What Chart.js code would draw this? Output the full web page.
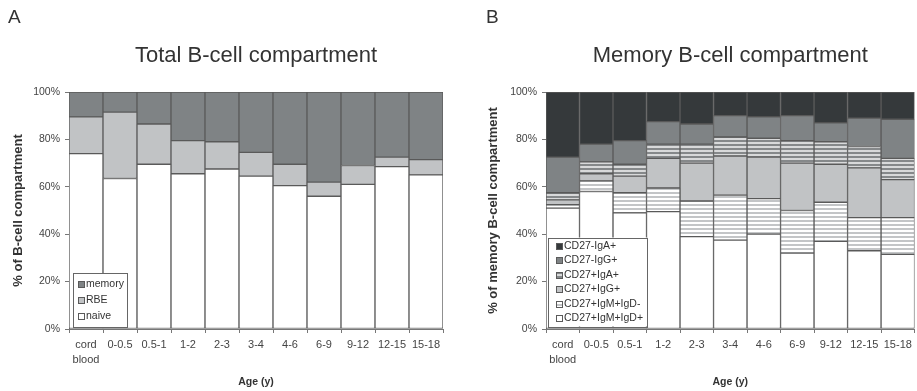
<!DOCTYPE html>
<html>
<head>
<meta charset="utf-8">
<script src="https://cdn.jsdelivr.net/npm/chart.js@4.4.1/dist/chart.umd.min.js"></script>
<style>
	html, body { margin: 0; padding: 0; background: #fff; }
	body { width: 917px; height: 391px; position: relative; overflow: hidden; font-family: 'Liberation Sans', Arial, sans-serif; }
	.panel { position: absolute; top: 0; height: 391px; }
	#panel-a { left: 0; width: 458px; }
	#panel-b { left: 458px; width: 459px; }
	.letter { position: absolute; top: 7px; font-size: 19px; line-height: 19px; color: #333; }
</style>
</head>
<body>
<div class="panel" id="panel-a"><canvas id="total-chart"></canvas></div>
<div class="panel" id="panel-b"><canvas id="memory-chart"></canvas></div>
<div class="letter" style="left:8px">A</div>
<div class="letter" style="left:486px">B</div>
<script>
// age groups on the x axis
const ageGroups = [['cord', 'blood'], '0-0.5', '0.5-1', '1-2', '2-3', '3-4', '4-6', '6-9', '9-12', '12-15', '15-18']
const percentTicks = [0, 20, 40, 60, 80, 100]

// panel A, % of total B cells
const naive = [74, 63.5, 69.5, 65.5, 67.5, 64.5, 60.5, 56, 61, 68.5, 65]
const rbe = [15.5, 28, 17, 14, 11.5, 10, 9, 6, 8, 4, 6.5]
const memory = [10.5, 8.5, 13.5, 20.5, 21, 25.5, 30.5, 38, 31, 27.5, 28.5]

// panel B, % of memory B cells
const cd27IgMIgDpos = [51, 58, 49, 49.5, 39, 37.5, 40, 32, 37, 33, 31.5]
const cd27IgMIgDneg = [1.5, 4.5, 8.5, 10, 15, 19, 15, 18, 16.5, 14, 15.5]
const cd27IgG = [2, 3, 7, 12.5, 16, 16.5, 17.5, 20, 16, 21, 16]
const cd27IgA = [3, 5, 5, 6, 8, 8, 8, 9.5, 9.5, 9, 9]
const cd27negIgG = [15, 7.5, 10, 9.5, 8.5, 9, 9, 10.5, 8, 12, 16.5]
const cd27negIgA = [27.5, 22, 20.5, 12.5, 13.5, 10, 10.5, 10, 13, 11, 11.5]

const FONT = "'Liberation Sans', Arial, sans-serif",
	DARK = '#35393b',
	MID = '#7f8385',
	LIGHT = '#c1c3c5',
	EDGE = '#5a5a5a',
	AXIS = '#777'

function stripes(lineColor, gapColor) {
	const c = document.createElement('canvas')
	c.width = 4
	c.height = 4
	const g = c.getContext('2d')
	g.fillStyle = gapColor
	g.fillRect(0, 0, 4, 4)
	g.fillStyle = lineColor
	g.fillRect(0, 0, 4, 2)
	return g.createPattern(c, 'repeat')
}

// legend drawn as a framed box inside the plot, bottom left
const boxLegend = {
	id: 'boxLegend',
	afterDatasetsDraw(chart, args, opts) {
		const { ctx, chartArea } = chart
		const sets = chart.data.datasets.slice().reverse()
		const h = sets.length * opts.rowHeight + opts.pad * 2
		const x = chartArea.left + opts.left
		const y = chartArea.bottom - opts.bottom - h
		ctx.save()
		ctx.fillStyle = '#fff'
		ctx.fillRect(x, y, opts.width, h)
		ctx.strokeStyle = '#666'
		ctx.lineWidth = 1
		ctx.strokeRect(Math.round(x) + 0.5, Math.round(y) + 0.5, opts.width, Math.round(h))
		ctx.font = `${opts.fontSize}px ${FONT}`
		ctx.textBaseline = 'middle'
		sets.forEach((ds, i) => {
			const cy = Math.round(y + opts.pad + opts.rowHeight * (i + 0.5))
			const sx = Math.round(x + opts.swatchX)
			ctx.fillStyle = ds.backgroundColor
			ctx.fillRect(sx, cy - 3, 6, 6)
			ctx.strokeStyle = EDGE
			ctx.strokeRect(sx + 0.5, cy - 2.5, 6, 6)
			ctx.fillStyle = '#333'
			ctx.fillText(ds.label, sx + 8, cy + 0.5)
		})
		ctx.restore()
	}
}

function series(label, data, color) {
	return { label, data, backgroundColor: color, borderColor: EDGE, borderWidth: 1, borderSkipped: false, categoryPercentage: 1, barPercentage: 1 }
}

function options(title, yTitle, pad, yWidth, legend) {
	return {
		responsive: true,
		maintainAspectRatio: false,
		animation: false,
		layout: { padding: pad },
		plugins: {
			legend: { display: false },
			tooltip: { enabled: false },
			title: {
				display: true, text: title, fullSize: false, color: '#333',
				font: { family: FONT, size: 22, weight: 'normal', lineHeight: 1.2 },
				padding: { top: 43, bottom: 22.6 }
			},
			boxLegend: legend
		},
		scales: {
			x: {
				stacked: true,
				offset: true,
				grid: { offset: true, drawOnChartArea: false, tickLength: 4, color: AXIS },
				border: { color: AXIS },
				ticks: { color: '#444', padding: 5, maxRotation: 0, autoSkip: false, font: { family: FONT, size: 11, lineHeight: 1.35 } },
				title: { display: true, text: 'Age (y)', color: '#333', font: { family: FONT, size: 10.5, weight: 'bold' }, padding: { top: 0, bottom: 3 } },
				afterFit: (s) => { s.height = 62 }
			},
			y: {
				stacked: true,
				min: 0,
				max: 100,
				afterBuildTicks: (s) => { s.ticks = percentTicks.map((value) => ({ value })) },
				grid: { drawOnChartArea: false, tickLength: 4, color: AXIS },
				border: { color: AXIS },
				ticks: { color: '#444', padding: 5, callback: (v) => v + '%', font: { family: FONT, size: 10.5 } },
				title: { display: true, text: yTitle, color: '#333', font: { family: FONT, size: 13, weight: 'bold' }, padding: { top: 0, bottom: 0 } },
				afterFit: (s) => { s.width = yWidth }
			}
		}
	}
}

new Chart(document.getElementById('total-chart'), {
	type: 'bar',
	data: {
		labels: ageGroups,
		datasets: [
			series('naive', naive, '#fff'),
			series('RBE', rbe, LIGHT),
			series('memory', memory, MID)
		]
	},
	options: options('Total B-cell compartment', '% of B-cell compartment',
		{ left: 11, right: 15, top: 0, bottom: 0 }, 58,
		{ left: 4, bottom: 2, width: 54, rowHeight: 16.3, pad: 2.5, swatchX: 4.5, fontSize: 10.5 }),
	plugins: [boxLegend]
})

new Chart(document.getElementById('memory-chart'), {
	type: 'bar',
	data: {
		labels: ageGroups,
		datasets: [
			series('CD27+IgM+IgD+', cd27IgMIgDpos, '#fff'),
			series('CD27+IgM+IgD-', cd27IgMIgDneg, stripes('#c3c5c7', '#fff')),
			series('CD27+IgG+', cd27IgG, LIGHT),
			series('CD27+IgA+', cd27IgA, stripes('#85888a', '#d8d9da')),
			series('CD27-IgG+', cd27negIgG, MID),
			series('CD27-IgA+', cd27negIgA, DARK)
		]
	},
	options: options('Memory B-cell compartment', '% of memory B-cell compartment',
		{ left: 28, right: 0, top: 0, bottom: 0 }, 60,
		{ left: 2, bottom: 2.5, width: 99, rowHeight: 14.4, pad: 1.3, swatchX: 8, fontSize: 10.5 }),
	plugins: [boxLegend]
})
</script>
</body>
</html>
